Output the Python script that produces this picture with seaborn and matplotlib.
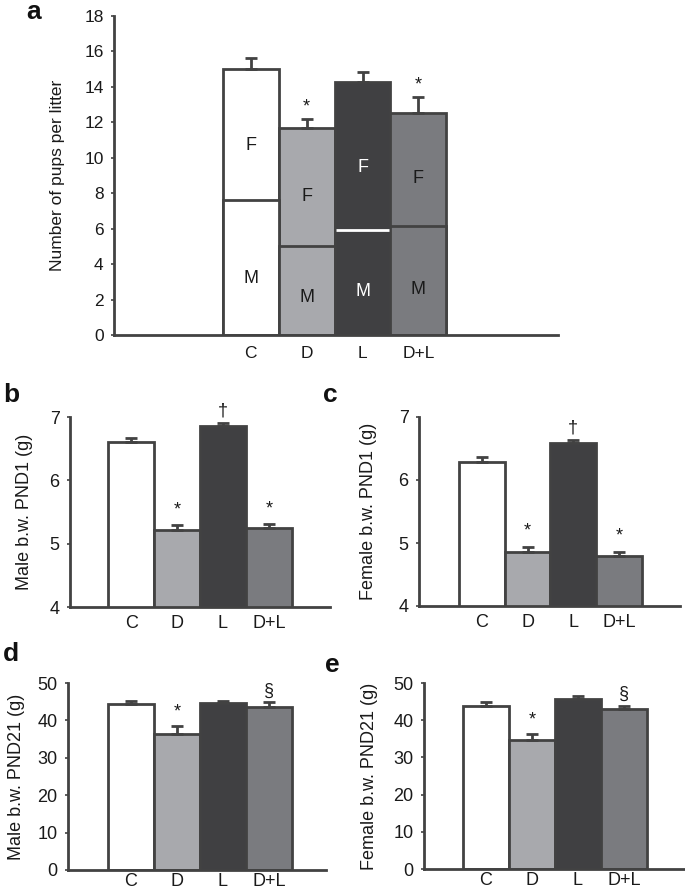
import numpy as np
import pandas as pd
import matplotlib
matplotlib.use("Agg")
import matplotlib.pyplot as plt
import seaborn as sns

# ---------------- data ----------------
groups = ["C", "D", "L", "D+L"]
colors = ["#ffffff", "#a8a9ad", "#404042", "#7a7b7f"]

# panel a: number of pups per litter (stacked: males bottom, total top)
pups_total = [15.0, 11.7, 14.3, 12.55]
pups_male = [7.6, 5.0, 5.9, 6.17]
pups_err_top = [15.65, 12.2, 14.85, 13.45]
pups_marks = ["", "*", "", "*"]

# panel b: male body weight PND1
male_pnd1 = [6.61, 5.22, 6.86, 5.24]
male_pnd1_err_top = [6.67, 5.29, 6.90, 5.31]
male_pnd1_marks = ["", "*", "\u2020", "*"]

# panel c: female body weight PND1
female_pnd1 = [6.29, 4.86, 6.59, 4.79]
female_pnd1_err_top = [6.36, 4.94, 6.63, 4.86]
female_pnd1_marks = ["", "*", "\u2020", "*"]

# panel d: male body weight PND21
male_pnd21 = [44.3, 36.4, 44.6, 43.7]
male_pnd21_err_top = [45.3, 38.6, 45.3, 44.8]
male_pnd21_marks = ["", "*", "", "\u00a7"]

# panel e: female body weight PND21
female_pnd21 = [43.9, 34.7, 45.6, 43.0]
female_pnd21_err_top = [44.8, 36.3, 46.4, 43.9]
female_pnd21_marks = ["", "*", "", "\u00a7"]

# ---------------- style ----------------
sns.set_theme(style="white")
plt.rcParams["font.family"] = ["Liberation Sans", "DejaVu Sans"]
EDGE = "#424242"
TXT = "#1a1a1a"
LW = 2.0

W, H = 685, 892
fig = plt.figure(figsize=(W / 100, H / 100), dpi=100)


def px_axes(l, r, t, b):
    return fig.add_axes([l / W, 1 - b / H, (r - l) / W, (b - t) / H])


def style_axes(ax, ylim, yticks, xlim, ylabel, label_x, xpad, fs):
    ax.set_ylim(*ylim)
    ax.set_yticks(yticks)
    ax.set_xlim(*xlim)
    for s in ["top", "right"]:
        ax.spines[s].set_visible(False)
    for s in ["left", "bottom"]:
        ax.spines[s].set_color(EDGE)
        ax.spines[s].set_linewidth(LW)
    ax.tick_params(axis="y", direction="out", length=2.5, width=1.2, color=EDGE,
                   labelsize=fs, pad=5, labelcolor=TXT, left=True)
    ax.tick_params(axis="x", length=0, labelsize=fs, pad=xpad, labelcolor=TXT)
    ax.set_xlabel("")
    ax.set_ylabel(ylabel, fontsize=fs, color=TXT)
    ax.yaxis.set_label_coords(label_x, 0.5)


def bars(ax, values):
    df = pd.DataFrame({"group": groups, "value": values})
    sns.barplot(data=df, x="group", y="value", hue="group", palette=colors,
                legend=False, width=1.0, edgecolor=EDGE, linewidth=LW,
                saturation=1, ax=ax, errorbar=None)


def errs(ax, values, err_top):
    v = np.array(values)
    e = np.array(err_top)
    ax.errorbar(np.arange(len(v)), e, yerr=[e - v, np.zeros_like(v)],
                fmt="none", ecolor=EDGE, elinewidth=LW, capsize=4.5,
                capthick=LW, zorder=1)


def marks(ax, err_top, symbols, offset):
    for i, (e, s) in enumerate(zip(err_top, symbols)):
        if s:
            extra = 2 if s == "*" else 0
            ax.annotate(s, (i, e), xytext=(0, offset + extra), textcoords="offset points",
                        ha="center", va="bottom", fontsize=13, color=TXT)


# ---------------- panel a ----------------
axa = px_axes(114, 558, 16, 335)
bars(axa, pups_total)
bars(axa, pups_male)
n = len(groups)
patches = axa.patches
for i in range(n):
    p = patches[n + i]
    x0, w = p.get_x(), p.get_width()
    txtcol = "white" if i == 2 else TXT
    if i == 2:
        axa.hlines(pups_male[i], x0 + 0.02, x0 + w - 0.02, color="white", lw=LW, zorder=5)
    m = pups_male[i]
    t = pups_total[i]
    axa.text(i, m * 0.42, "M", ha="center", va="center", fontsize=13, color=txtcol)
    axa.text(i, m + (t - m) * 0.42, "F", ha="center", va="center", fontsize=13, color=txtcol)
errs(axa, pups_total, pups_err_top)
marks(axa, pups_err_top, pups_marks, 0.5)
style_axes(axa, (0, 18), np.arange(0, 19, 2), (-2.45, 5.5),
           "Number of pups per litter", -0.11, 8, 12.5)

# ---------------- panel b ----------------
axb = px_axes(70, 330, 417, 607)
bars(axb, male_pnd1)
errs(axb, male_pnd1, male_pnd1_err_top)
marks(axb, male_pnd1_err_top, male_pnd1_marks, 3)
style_axes(axb, (4, 7), [4, 5, 6, 7], (-1.33, 4.33), "Male b.w. PND1 (g)", -0.142, 6, 13)

# ---------------- panel c ----------------
axc = px_axes(419, 680, 417, 606)
bars(axc, female_pnd1)
errs(axc, female_pnd1, female_pnd1_err_top)
marks(axc, female_pnd1_err_top, female_pnd1_marks, 3)
style_axes(axc, (4, 7), [4, 5, 6, 7], (-1.37, 4.33), "Female b.w. PND1 (g)", -0.161, 6, 13)

# ---------------- panel d ----------------
axd = px_axes(68, 326, 683, 870)
bars(axd, male_pnd21)
errs(axd, male_pnd21, male_pnd21_err_top)
marks(axd, male_pnd21_err_top, male_pnd21_marks, 2)
style_axes(axd, (0, 50), np.arange(0, 51, 10), (-1.37, 4.24), "Male b.w. PND21 (g)", -0.167, 2, 13)

# ---------------- panel e ----------------
axe = px_axes(424, 686, 683, 869)
bars(axe, female_pnd21)
errs(axe, female_pnd21, female_pnd21_err_top)
marks(axe, female_pnd21_err_top, female_pnd21_marks, 2)
style_axes(axe, (0, 50), np.arange(0, 51, 10), (-1.35, 4.35), "Female b.w. PND21 (g)", -0.176, 2, 13)

# panel letters
fig.text(26 / W, 1.0, "a", fontsize=19, fontweight="bold", va="top", ha="left", color="#111111")
for letter, x, y in [("b", 3, 402), ("c", 323, 402), ("d", 3, 661), ("e", 325, 672)]:
    fig.text(x / W, 1 - y / H, letter, fontsize=19, fontweight="bold", va="baseline",
             ha="left", color="#111111")

fig.savefig("out.png", dpi=100)
